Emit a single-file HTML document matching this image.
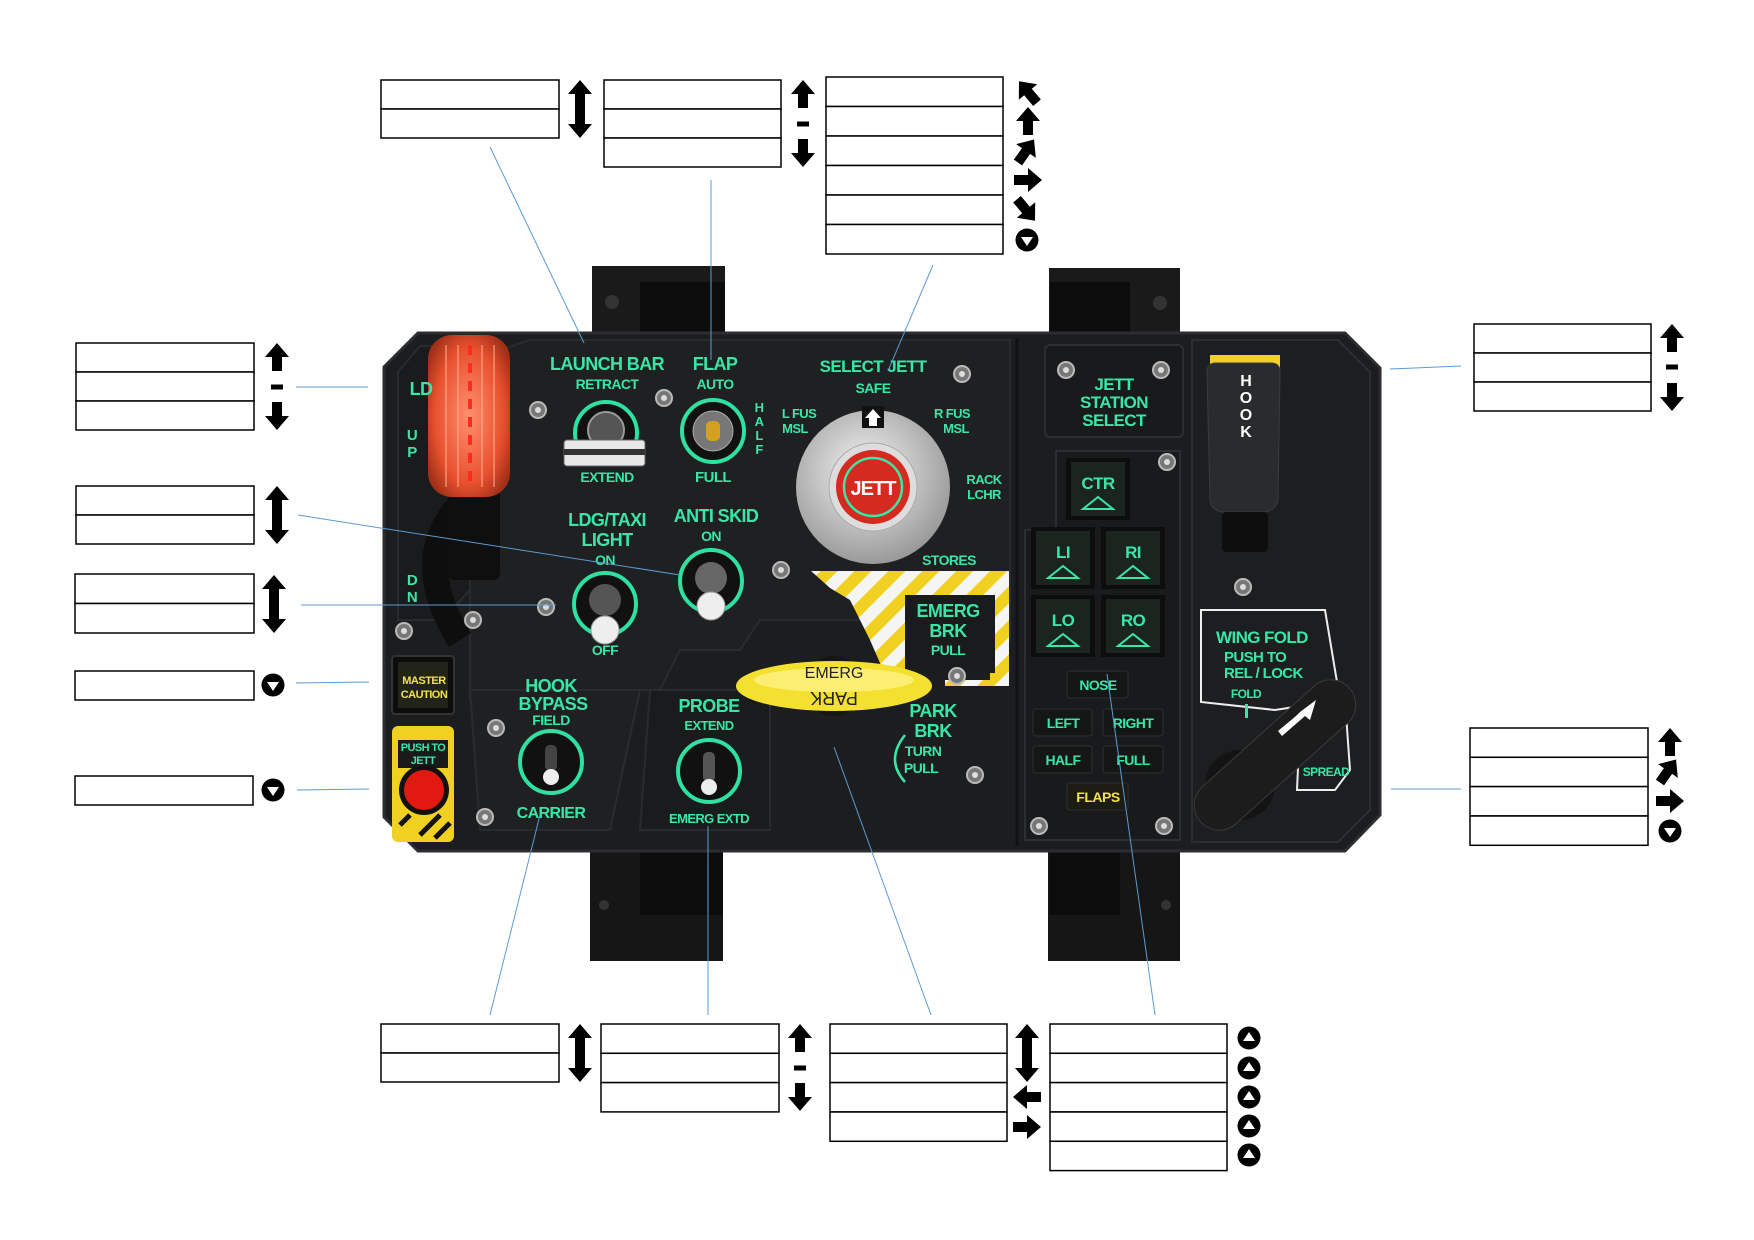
<!DOCTYPE html>
<html><head><meta charset="utf-8"><style>
html,body{margin:0;padding:0;background:#fff;}
svg{display:block;}
.g{fill:#3ae6a6;font-family:"Liberation Sans Narrow","Liberation Sans",sans-serif;font-weight:bold;text-anchor:middle;letter-spacing:-0.6px;}
.y{fill:#f2e24a;font-family:"Liberation Sans Narrow","Liberation Sans",sans-serif;font-weight:bold;text-anchor:middle;letter-spacing:-0.5px;}
.bx{fill:#fff;stroke:#000;stroke-width:1.5;}
.ld{stroke:#5b9bd5;stroke-width:1;fill:none;}
.ring{fill:#111;stroke:#2fe0a0;stroke-width:4;}
</style></head><body>
<svg width="1754" height="1240" viewBox="0 0 1754 1240" xmlns="http://www.w3.org/2000/svg">
<defs>
<path id="up" d="M0,-14 L12,0 L5,0 L5,14 L-5,14 L-5,0 L-12,0 Z" fill="#000"/>
<path id="dbl" d="M0,-29 L12,-15 L5,-15 L5,15 L12,15 L0,29 L-12,15 L-5,15 L-5,-15 L-12,-15 Z" fill="#000"/>
<g id="dash"><rect x="-6" y="-2.5" width="12" height="5" fill="#000"/></g>
<g id="cdn"><circle r="11.5" fill="#000"/><path d="M-6,-3 L6,-3 L0,6 Z" fill="#fff"/></g>
<g id="cup"><circle r="11.5" fill="#000"/><path d="M-6,3 L6,3 L0,-6 Z" fill="#fff"/></g>
<pattern id="haz" width="24" height="24" patternUnits="userSpaceOnUse" patternTransform="rotate(45)">
<rect width="24" height="24" fill="#f5f5f5"/><rect width="12" height="24" fill="#f0d020"/></pattern>
<radialGradient id="knob" cx="45%" cy="40%" r="60%"><stop offset="0" stop-color="#f4f4f4"/><stop offset="1" stop-color="#9a9a9a"/></radialGradient>
<radialGradient id="gear" cx="50%" cy="50%" r="60%"><stop offset="0" stop-color="#ff9070"/><stop offset="0.7" stop-color="#e8502e"/><stop offset="1" stop-color="#a03018"/></radialGradient>
<g id="scr"><circle r="8" fill="#777" stroke="#bbb" stroke-width="2"/><circle r="3" fill="#ddd"/></g>
</defs>

<!-- mounting brackets -->
<rect x="592" y="266" width="133" height="80" fill="#1a1a1a"/>
<rect x="640" y="282" width="85" height="64" fill="#0c0c0c"/>
<circle cx="612" cy="302" r="7" fill="#333"/>
<rect x="1049" y="268" width="131" height="80" fill="#1a1a1a"/>
<rect x="1050" y="282" width="80" height="64" fill="#0c0c0c"/>
<circle cx="1160" cy="303" r="7" fill="#333"/>
<rect x="590" y="843" width="133" height="118" fill="#161616"/>
<rect x="640" y="843" width="83" height="72" fill="#0c0c0c"/>
<circle cx="604" cy="905" r="5" fill="#333"/>
<rect x="1048" y="843" width="132" height="118" fill="#161616"/>
<rect x="1050" y="843" width="70" height="72" fill="#0c0c0c"/>
<circle cx="1166" cy="905" r="5" fill="#333"/>

<!-- panel -->
<polygon points="418,333 1345,333 1380,368 1380,815 1345,851 418,851 384,817 384,367" fill="#1c1d1f" stroke="#2c2d30" stroke-width="3"/>
<polygon points="398,372 420,346 470,346 470,590 442,620 398,620" fill="#1a1b1c" stroke="#2a2b2d" stroke-width="2"/>
<path d="M530,340 L1010,340 L1010,640 L880,640 L860,620 L760,620 L740,650 L680,650 L660,690 L560,690 L540,700 L470,700 L470,360 Z" fill="#1f2022" stroke="#2a2b2e" stroke-width="2"/>
<path d="M470,690 L640,690 L610,830 L480,830 Z" fill="#1f2022" stroke="#2a2b2e" stroke-width="2"/>
<path d="M650,690 L770,690 L770,830 L640,830 Z" fill="#1a1b1d" stroke="#2a2b2e" stroke-width="2"/>
<line x1="1017" y1="338" x2="1017" y2="846" stroke="#111" stroke-width="3"/>
<rect x="1045" y="345" width="138" height="92" rx="5" fill="#191a1c" stroke="#2d2e31" stroke-width="2"/>
<path d="M1056,451 L1180,451 L1180,840 L1025,840 L1025,530 L1056,530 Z" fill="#191a1c" stroke="#2d2e31" stroke-width="2"/>
<path d="M1192,340 L1338,340 L1370,372 L1370,810 L1338,842 L1192,842 Z" fill="#1d1e20" stroke="#2d2e31" stroke-width="2"/>

<!-- landing gear -->
<path d="M460,505 Q410,560 460,640" stroke="#0e0e0e" stroke-width="26" fill="none"/>
<rect x="448" y="490" width="52" height="90" rx="6" fill="#0f0f10"/>
<rect x="428" y="335" width="82" height="162" rx="24" fill="url(#gear)"/>
<line x1="446" y1="345" x2="446" y2="487" stroke="#ffb090" stroke-width="2" opacity="0.5"/>
<line x1="458" y1="345" x2="458" y2="487" stroke="#ffb090" stroke-width="2" opacity="0.5"/>
<line x1="470" y1="345" x2="470" y2="487" stroke="#ff2a20" stroke-width="4" stroke-dasharray="10,8"/>
<line x1="482" y1="345" x2="482" y2="487" stroke="#ffb090" stroke-width="2" opacity="0.5"/>
<line x1="494" y1="345" x2="494" y2="487" stroke="#ffb090" stroke-width="2" opacity="0.5"/>
<text class="g" x="421" y="395" font-size="18">LD</text>
<text class="g" x="412" y="440" font-size="15">U</text><text class="g" x="412" y="457" font-size="15">P</text>
<text class="g" x="412" y="585" font-size="15">D</text><text class="g" x="412" y="602" font-size="15">N</text>
<rect x="392" y="656" width="62" height="58" rx="3" fill="#0d0d0d" stroke="#333" stroke-width="2"/>
<rect x="398" y="662" width="50" height="46" fill="#222419"/>
<text class="y" x="424" y="684" font-size="11">MASTER</text><text class="y" x="424" y="698" font-size="11">CAUTION</text>
<rect x="392" y="726" width="62" height="116" rx="6" fill="#f0d020"/>
<rect x="398" y="740" width="50" height="28" fill="#1a1a1a"/>
<text class="g" x="423" y="751" font-size="11">PUSH TO</text><text class="g" x="423" y="764" font-size="11">JETT</text>
<circle cx="424" cy="790" r="25" fill="#111"/><circle cx="424" cy="790" r="20" fill="#e01a10"/>
<path d="M400,825 L410,815 M420,835 L440,815 M435,838 L450,823" stroke="#111" stroke-width="5"/>

<!-- launch bar -->
<text class="g" x="607" y="370" font-size="18">LAUNCH BAR</text>
<text class="g" x="607" y="389" font-size="14">RETRACT</text>
<circle class="ring" cx="606" cy="433" r="31"/>
<circle cx="606" cy="430" r="18" fill="#555" stroke="#999" stroke-width="2"/>
<rect x="564" y="440" width="81" height="26" rx="3" fill="#e8e8e8" stroke="#666"/>
<rect x="564" y="449" width="81" height="6" fill="#333"/>
<text class="g" x="607" y="482" font-size="14">EXTEND</text>
<!-- flap -->
<text class="g" x="715" y="370" font-size="18">FLAP</text>
<text class="g" x="715" y="389" font-size="14">AUTO</text>
<circle class="ring" cx="713" cy="431" r="31"/>
<circle cx="713" cy="431" r="20" fill="#777" stroke="#aaa"/>
<rect x="706" y="421" width="14" height="20" rx="5" fill="#d4a020"/>
<text class="g" x="713" y="482" font-size="15">FULL</text>
<text class="g" x="759" y="412" font-size="13">H</text><text class="g" x="759" y="426" font-size="13">A</text><text class="g" x="759" y="440" font-size="13">L</text><text class="g" x="759" y="454" font-size="13">F</text>
<!-- select jett -->
<text class="g" x="873" y="372" font-size="17">SELECT JETT</text>
<text class="g" x="873" y="393" font-size="14">SAFE</text>
<text class="g" x="799" y="418" font-size="13">L FUS</text><text class="g" x="795" y="433" font-size="13">MSL</text>
<text class="g" x="952" y="418" font-size="13">R FUS</text><text class="g" x="956" y="433" font-size="13">MSL</text>
<text class="g" x="984" y="484" font-size="13">RACK</text><text class="g" x="984" y="499" font-size="13">LCHR</text>
<text class="g" x="949" y="565" font-size="14">STORES</text>
<circle cx="873" cy="487" r="77" fill="url(#knob)"/>
<circle cx="873" cy="487" r="44" fill="#ddd" stroke="#aaa"/>
<circle cx="873" cy="487" r="37" fill="#d52a20"/>
<circle cx="873" cy="487" r="29" fill="none" stroke="#3ae6a6" stroke-width="2.5"/>
<text x="873" y="495" font-size="20" fill="#fff" text-anchor="middle" font-family="Liberation Sans,sans-serif" font-weight="bold" letter-spacing="-1">JETT</text>
<rect x="862" y="406" width="22" height="22" fill="#111"/>
<path d="M873,409 L881,418 L877,418 L877,426 L869,426 L869,418 L865,418 Z" fill="#fff"/>
<!-- ldg taxi -->
<text class="g" x="607" y="526" font-size="18">LDG/TAXI</text>
<text class="g" x="607" y="546" font-size="18">LIGHT</text>
<text class="g" x="605" y="565" font-size="14">ON</text>
<circle class="ring" cx="605" cy="604" r="31"/>
<circle cx="605" cy="600" r="16" fill="#555"/>
<circle cx="605" cy="630" r="14" fill="#eee" stroke="#999"/>
<text class="g" x="605" y="655" font-size="14">OFF</text>
<text class="g" x="716" y="522" font-size="18">ANTI SKID</text>
<text class="g" x="711" y="541" font-size="14">ON</text>
<circle class="ring" cx="711" cy="581" r="31"/>
<circle cx="711" cy="578" r="16" fill="#666"/>
<circle cx="711" cy="606" r="14" fill="#eee" stroke="#999"/>
<!-- hook bypass -->
<text class="g" x="551" y="692" font-size="18">HOOK</text>
<text class="g" x="553" y="710" font-size="18">BYPASS</text>
<text class="g" x="551" y="725" font-size="14">FIELD</text>
<circle class="ring" cx="551" cy="762" r="31"/>
<rect x="545" y="745" width="12" height="26" rx="5" fill="#444"/>
<circle cx="551" cy="777" r="8" fill="#eee"/>
<text class="g" x="551" y="818" font-size="16">CARRIER</text>
<!-- probe -->
<text class="g" x="709" y="712" font-size="18">PROBE</text>
<text class="g" x="709" y="730" font-size="13">EXTEND</text>
<circle class="ring" cx="709" cy="771" r="31"/>
<rect x="703" y="752" width="12" height="30" rx="5" fill="#555"/>
<circle cx="709" cy="787" r="8" fill="#eee"/>
<text class="g" x="709" y="823" font-size="13">EMERG EXTD</text>
<!-- emerg brake -->
<polygon points="811,571 1009,571 1009,686 945,686 945,680 990,680 990,600 905,600 905,686 890,686 870,640 850,600 830,588" fill="url(#haz)"/>
<rect x="905" y="595" width="90" height="78" fill="#1a1b1c"/>
<text class="g" x="948" y="617" font-size="18">EMERG</text>
<text class="g" x="948" y="637" font-size="18">BRK</text>
<text class="g" x="948" y="655" font-size="14">PULL</text>
<circle cx="834" cy="686" r="30" fill="#161616"/>
<ellipse cx="834" cy="686" rx="98" ry="25" fill="#f4e030"/>
<ellipse cx="834" cy="680" rx="80" ry="12" fill="#fff490" opacity="0.7"/>
<text x="834" y="678" font-size="16" fill="#222" text-anchor="middle" font-family="Liberation Sans,sans-serif">EMERG</text>
<g transform="rotate(180 834 698)"><text x="834" y="704" font-size="18" fill="#222" text-anchor="middle" font-family="Liberation Sans,sans-serif">PARK</text></g>
<text class="g" x="933" y="717" font-size="18">PARK</text>
<text class="g" x="933" y="737" font-size="18">BRK</text>
<text class="g" x="923" y="756" font-size="14">TURN</text>
<text class="g" x="921" y="773" font-size="14">PULL</text>
<path d="M905,735 Q885,760 905,782" stroke="#3ae6a6" stroke-width="2.5" fill="none"/>

<!-- jett station select -->
<text class="g" x="1114" y="390" font-size="17">JETT</text>
<text class="g" x="1114" y="408" font-size="17">STATION</text>
<text class="g" x="1114" y="426" font-size="17">SELECT</text>
<g>
<rect x="1066" y="458" width="64" height="62" fill="#0d0d0d"/><rect x="1071" y="462" width="54" height="54" fill="#1c2420"/>
<text class="g" x="1098" y="489" font-size="17">CTR</text><path d="M1083,509 L1098,497 L1113,509 Z" fill="none" stroke="#3ae6a6" stroke-width="2"/>
<rect x="1031" y="527" width="64" height="62" fill="#0d0d0d"/><rect x="1036" y="531" width="54" height="54" fill="#1c2420"/>
<text class="g" x="1063" y="558" font-size="17">LI</text><path d="M1048,578 L1063,566 L1078,578 Z" fill="none" stroke="#3ae6a6" stroke-width="2"/>
<rect x="1101" y="527" width="64" height="62" fill="#0d0d0d"/><rect x="1106" y="531" width="54" height="54" fill="#1c2420"/>
<text class="g" x="1133" y="558" font-size="17">RI</text><path d="M1118,578 L1133,566 L1148,578 Z" fill="none" stroke="#3ae6a6" stroke-width="2"/>
<rect x="1031" y="595" width="64" height="62" fill="#0d0d0d"/><rect x="1036" y="599" width="54" height="54" fill="#1c2420"/>
<text class="g" x="1063" y="626" font-size="17">LO</text><path d="M1048,646 L1063,634 L1078,646 Z" fill="none" stroke="#3ae6a6" stroke-width="2"/>
<rect x="1101" y="595" width="64" height="62" fill="#0d0d0d"/><rect x="1106" y="599" width="54" height="54" fill="#1c2420"/>
<text class="g" x="1133" y="626" font-size="17">RO</text><path d="M1118,646 L1133,634 L1148,646 Z" fill="none" stroke="#3ae6a6" stroke-width="2"/>
</g>
<rect x="1067" y="671" width="61" height="27" rx="3" fill="#151716" stroke="#2d2e31"/><text class="g" x="1098" y="690" font-size="14">NOSE</text>
<rect x="1033" y="709" width="59" height="27" rx="3" fill="#151716" stroke="#2d2e31"/><text class="g" x="1063" y="728" font-size="14">LEFT</text>
<rect x="1103" y="709" width="60" height="27" rx="3" fill="#151716" stroke="#2d2e31"/><text class="g" x="1133" y="728" font-size="14">RIGHT</text>
<rect x="1033" y="746" width="59" height="27" rx="3" fill="#151716" stroke="#2d2e31"/><text class="g" x="1063" y="765" font-size="14">HALF</text>
<rect x="1103" y="746" width="60" height="27" rx="3" fill="#151716" stroke="#2d2e31"/><text class="g" x="1133" y="765" font-size="14">FULL</text>
<rect x="1067" y="783" width="61" height="27" rx="3" fill="#1c1c14" stroke="#2d2e31"/><text class="y" x="1098" y="802" font-size="14">FLAPS</text>

<!-- hook -->
<rect x="1210" y="355" width="70" height="14" fill="#f0d020"/>
<path d="M1207,372 Q1207,363 1216,363 L1271,363 Q1280,363 1280,372 L1278,500 Q1276,510 1265,512 L1222,512 Q1211,510 1210,500 Z" fill="#2a2b2d" stroke="#3a3b3e"/>
<rect x="1222" y="512" width="46" height="40" rx="4" fill="#0e0e0e"/>
<text x="1246" y="386" font-size="16" fill="#fff" text-anchor="middle" font-family="Liberation Sans,sans-serif" font-weight="bold">H</text>
<text x="1246" y="403" font-size="16" fill="#fff" text-anchor="middle" font-family="Liberation Sans,sans-serif" font-weight="bold">O</text>
<text x="1246" y="420" font-size="16" fill="#fff" text-anchor="middle" font-family="Liberation Sans,sans-serif" font-weight="bold">O</text>
<text x="1246" y="437" font-size="16" fill="#fff" text-anchor="middle" font-family="Liberation Sans,sans-serif" font-weight="bold">K</text>
<use href="#scr" x="1243" y="587"/>
<path d="M1201,610 L1325,610 L1340,700 L1275,710 L1201,702 Z" fill="none" stroke="#eee" stroke-width="2"/>
<text class="g" x="1216" y="643" font-size="17" style="text-anchor:start">WING  FOLD</text>
<text class="g" x="1224" y="662" font-size="15" style="text-anchor:start">PUSH TO</text>
<text class="g" x="1224" y="678" font-size="15" style="text-anchor:start">REL / LOCK</text>
<text class="g" x="1246" y="698" font-size="12">FOLD</text>
<rect x="1245" y="704" width="3" height="14" fill="#3ae6a6"/>
<path d="M1300,724 L1345,700 L1350,770 L1335,790 L1297,790 Z" fill="#1d1e20" stroke="#eee" stroke-width="2"/>
<text class="g" x="1326" y="776" font-size="12">SPREAD</text>
<circle cx="1240" cy="785" r="35" fill="#141414"/>
<rect x="1175" y="730" width="200" height="50" rx="25" fill="#1c1c1c" stroke="#3a3a3a" transform="rotate(-42 1275 755)"/>
<path d="M1300,712 L1316,700 L1310,720 L1305,716 L1282,736 L1278,731 L1296,716 Z" fill="#fff"/>

<!-- screws -->
<use href="#scr" x="538" y="410"/><use href="#scr" x="664" y="398"/><use href="#scr" x="962" y="374"/>
<use href="#scr" x="781" y="570"/><use href="#scr" x="546" y="607"/><use href="#scr" x="473" y="620"/>
<use href="#scr" x="404" y="631"/><use href="#scr" x="496" y="728"/><use href="#scr" x="485" y="817"/>
<use href="#scr" x="957" y="676"/><use href="#scr" x="975" y="775"/><use href="#scr" x="1066" y="370"/>
<use href="#scr" x="1161" y="370"/><use href="#scr" x="1167" y="462"/><use href="#scr" x="1039" y="826"/>
<use href="#scr" x="1164" y="826"/>

<!-- leader lines -->
<line class="ld" x1="490" y1="147" x2="584" y2="343"/>
<line class="ld" x1="711" y1="180" x2="711" y2="360"/>
<line class="ld" x1="933" y1="265" x2="888" y2="371"/>
<line class="ld" x1="296" y1="387" x2="368" y2="387"/>
<line class="ld" x1="298" y1="515" x2="680" y2="575"/>
<line class="ld" x1="301" y1="605" x2="556" y2="605"/>
<line class="ld" x1="296" y1="683" x2="369" y2="682"/>
<line class="ld" x1="297" y1="790" x2="369" y2="789"/>
<line class="ld" x1="1390" y1="369" x2="1461" y2="366"/>
<line class="ld" x1="1391" y1="789" x2="1461" y2="789"/>
<line class="ld" x1="490" y1="1015" x2="540" y2="815"/>
<line class="ld" x1="708" y1="1015" x2="708" y2="826"/>
<line class="ld" x1="931" y1="1015" x2="834" y2="747"/>
<line class="ld" x1="1155" y1="1015" x2="1107" y2="674"/>

<!-- label boxes -->
<g>
<rect class="bx" x="381" y="80" width="178" height="29"/><rect class="bx" x="381" y="109" width="178" height="29"/>
<use href="#dbl" x="580" y="109"/>
<rect class="bx" x="604" y="80" width="177" height="29"/><rect class="bx" x="604" y="109" width="177" height="29"/><rect class="bx" x="604" y="138" width="177" height="29"/>
<use href="#up" x="803" y="94"/><use href="#dash" x="803" y="124"/><use href="#up" x="803" y="153" transform="rotate(180 803 153)"/>
<rect class="bx" x="826" y="77" width="177" height="29.5"/><rect class="bx" x="826" y="106.5" width="177" height="29.5"/><rect class="bx" x="826" y="136" width="177" height="29.5"/><rect class="bx" x="826" y="165.5" width="177" height="29.5"/><rect class="bx" x="826" y="195" width="177" height="29.5"/><rect class="bx" x="826" y="224.5" width="177" height="29.5"/>
<use href="#up" x="1028" y="92" transform="rotate(-40 1028 92)"/>
<use href="#up" x="1028" y="121"/>
<use href="#up" x="1026" y="151" transform="rotate(35 1026 151)"/>
<use href="#up" x="1028" y="180" transform="rotate(90 1028 180)"/>
<use href="#up" x="1026" y="210" transform="rotate(140 1026 210)"/>
<use href="#cdn" x="1027" y="240"/>

<rect class="bx" x="76" y="343" width="178" height="29"/><rect class="bx" x="76" y="372" width="178" height="29"/><rect class="bx" x="76" y="401" width="178" height="29"/>
<use href="#up" x="277" y="357"/><use href="#dash" x="277" y="387"/><use href="#up" x="277" y="416" transform="rotate(180 277 416)"/>
<rect class="bx" x="76" y="486" width="178" height="29"/><rect class="bx" x="76" y="515" width="178" height="29"/>
<use href="#dbl" x="277" y="515"/>
<rect class="bx" x="75" y="574" width="179" height="29.5"/><rect class="bx" x="75" y="603.5" width="179" height="29.5"/>
<use href="#dbl" x="274" y="604"/>
<rect class="bx" x="75" y="671" width="179" height="29"/><use href="#cdn" x="273" y="685"/>
<rect class="bx" x="75" y="776" width="178" height="29"/><use href="#cdn" x="273" y="790"/>

<rect class="bx" x="1474" y="324" width="177" height="29"/><rect class="bx" x="1474" y="353" width="177" height="29"/><rect class="bx" x="1474" y="382" width="177" height="29"/>
<use href="#up" x="1672" y="338"/><use href="#dash" x="1672" y="367"/><use href="#up" x="1672" y="397" transform="rotate(180 1672 397)"/>
<rect class="bx" x="1470" y="728" width="178" height="29.3"/><rect class="bx" x="1470" y="757.3" width="178" height="29.3"/><rect class="bx" x="1470" y="786.6" width="178" height="29.3"/><rect class="bx" x="1470" y="816" width="178" height="29.3"/>
<use href="#up" x="1670" y="742"/><use href="#up" x="1668" y="771" transform="rotate(35 1668 771)"/><use href="#up" x="1670" y="801" transform="rotate(90 1670 801)"/><use href="#cdn" x="1670" y="831"/>

<rect class="bx" x="381" y="1024" width="178" height="29"/><rect class="bx" x="381" y="1053" width="178" height="29"/>
<use href="#dbl" x="580" y="1053"/>
<rect class="bx" x="601" y="1024" width="178" height="29.3"/><rect class="bx" x="601" y="1053.3" width="178" height="29.3"/><rect class="bx" x="601" y="1082.6" width="178" height="29.3"/>
<use href="#up" x="800" y="1038"/><use href="#dash" x="800" y="1068"/><use href="#up" x="800" y="1097" transform="rotate(180 800 1097)"/>
<rect class="bx" x="830" y="1024" width="177" height="29.3"/><rect class="bx" x="830" y="1053.3" width="177" height="29.3"/><rect class="bx" x="830" y="1082.6" width="177" height="29.3"/><rect class="bx" x="830" y="1112" width="177" height="29.3"/>
<use href="#dbl" x="1027" y="1053"/><use href="#up" x="1027" y="1097" transform="rotate(-90 1027 1097)"/><use href="#up" x="1027" y="1127" transform="rotate(90 1027 1127)"/>
<rect class="bx" x="1050" y="1024" width="177" height="29.3"/><rect class="bx" x="1050" y="1053.3" width="177" height="29.3"/><rect class="bx" x="1050" y="1082.6" width="177" height="29.3"/><rect class="bx" x="1050" y="1112" width="177" height="29.3"/><rect class="bx" x="1050" y="1141.3" width="177" height="29.3"/>
<use href="#cup" x="1249" y="1038"/><use href="#cup" x="1249" y="1068"/><use href="#cup" x="1249" y="1097"/><use href="#cup" x="1249" y="1126"/><use href="#cup" x="1249" y="1155"/>
</g>
</svg>
</body></html>
